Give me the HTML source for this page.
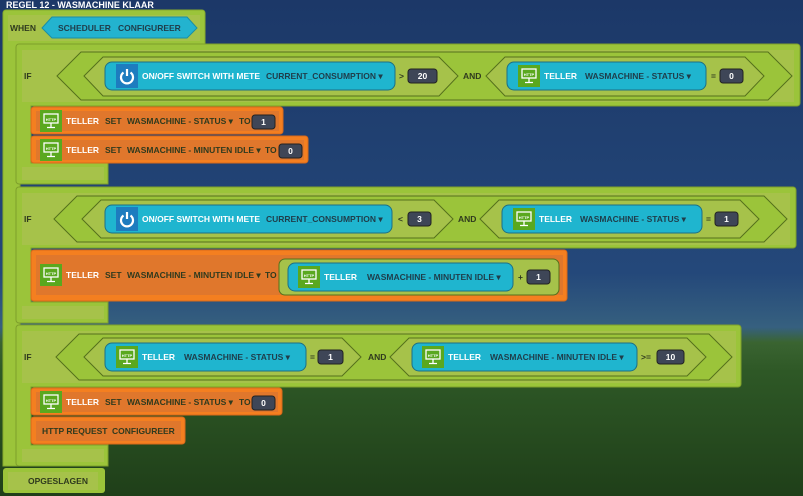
<!DOCTYPE html>
<html><head><meta charset="utf-8"><style>
html,body{margin:0;padding:0;width:803px;height:496px;overflow:hidden}
svg{display:block}
text{font-family:"Liberation Sans",sans-serif;font-weight:bold;font-size:8.5px;fill:#2f3a1e}
.w{fill:#fff}
.c{fill:#1f3d4a}
.v{fill:#fff;text-anchor:middle}
</style></head><body>
<svg width="803" height="496" viewBox="0 0 803 496" xmlns="http://www.w3.org/2000/svg">
<defs>
<linearGradient id="bg" x1="0" y1="0" x2="0" y2="1">
<stop offset="0" stop-color="#1c3868"/>
<stop offset="0.55" stop-color="#24487a"/>
<stop offset="0.66" stop-color="#36607f"/>
<stop offset="0.69" stop-color="#3a6431"/>
<stop offset="0.75" stop-color="#2e5826"/>
<stop offset="1" stop-color="#1f3f19"/>
</linearGradient>
<g id="http">
<rect width="22" height="22" fill="#5aa81e"/>
<rect x="4" y="4" width="14" height="9" fill="none" stroke="#fff" stroke-width="1.3"/>
<text x="11" y="11" style="font-size:4px;fill:#fff;text-anchor:middle">HTTP</text>
<path d="M11 13v4M7 17.5h8" stroke="#fff" stroke-width="1.3"/>
</g>
<g id="pwr">
<rect width="22" height="24" fill="#1d7cbf"/>
<path d="M7.5 8.5 A6 6 0 1 0 14.5 8.5" fill="none" stroke="#fff" stroke-width="2.2"/>
<path d="M11 5v7" stroke="#fff" stroke-width="2.2"/>
</g>
</defs>
<rect width="803" height="496" fill="url(#bg)"/>

<text x="6" y="8" class="w" style="font-size:9px">REGEL 12 - WASMACHINE KLAAR</text>

<path d="M6 10H202a3 3 0 0 1 3 3V44H20V466H3V13a3 3 0 0 1 3-3z" fill="#9bc43a" stroke="#86aa2c"/>
<rect x="8" y="15" width="192" height="26" fill="#a6c24a"/>
<text x="10" y="31">WHEN</text>
<polygon points="42,28 52,17 187,17 197,28 187,38 52,38" fill="#23b3cf" stroke="#1b8ea5"/>
<text x="58" y="31" class="c">SCHEDULER</text><text x="118" y="31" class="c">CONFIGUREER</text>
<rect x="3" y="468" width="102" height="25" rx="3" fill="#9bc43a"/>
<rect x="8" y="472" width="90" height="18" fill="#a6c24a"/>
<text x="28" y="484">OPGESLAGEN</text>

<path d="M19 44H797a3 3 0 0 1 3 3V103a3 3 0 0 1-3 3H31V163H108V184H19a3 3 0 0 1-3-3V47a3 3 0 0 1 3-3z" fill="#9bc43a" stroke="#7e9f2b"/>
<rect x="22" y="50" width="772" height="52" fill="#a6c24a"/>
<rect x="22" y="167" width="82" height="13" fill="#a6c24a"/>
<text x="24" y="79">IF</text>
<polygon points="57,76 81,52 768,52 792,76 768,100 81,100" fill="#9bc43a" stroke="#55701c"/>
<polygon points="84,76 103,57 439,57 458,76 439,96 103,96" fill="#a6c24a" stroke="#55701c"/>
<polygon points="486,76 505,57 745,57 764,76 745,96 505,96" fill="#a6c24a" stroke="#55701c"/>
<rect x="105" y="62" width="290" height="28" rx="7" fill="#1fb5cf" stroke="#1d6f85"/>
<use href="#pwr" x="116" y="64"/>
<text x="142" y="79" class="w">ON/OFF SWITCH WITH METE</text>
<text x="266" y="79" class="c">CURRENT_CONSUMPTION ▾</text>
<text x="399" y="79">&gt;</text>
<rect x="408" y="69" width="29" height="14" rx="3" fill="#3e4657" stroke="#222"/><text x="422.5" y="79" class="v">20</text>
<text x="463" y="79">AND</text>
<rect x="507" y="62" width="199" height="28" rx="7" fill="#1fb5cf" stroke="#1d6f85"/>
<use href="#http" x="518" y="65"/>
<text x="544" y="79" class="w">TELLER</text>
<text x="585" y="79" class="c">WASMACHINE - STATUS ▾</text>
<text x="711" y="79">=</text>
<rect x="720" y="69" width="23" height="14" rx="3" fill="#3e4657" stroke="#222"/><text x="731.5" y="79" class="v">0</text>

<rect x="31" y="107" width="252" height="27" rx="3" fill="#f47f20" stroke="#d9691a"/>
<rect x="36" y="111" width="243" height="20" fill="#e0772c"/>
<use href="#http" x="40" y="110"/>
<text x="66" y="124" class="w">TELLER</text>
<text x="105" y="124">SET</text><text x="127" y="124">WASMACHINE - STATUS ▾</text><text x="239" y="124">TO</text>
<rect x="252" y="115" width="23" height="14" rx="3" fill="#3e4657" stroke="#222"/><text x="263.5" y="125" class="v">1</text>
<rect x="31" y="136" width="277" height="27" rx="3" fill="#f47f20" stroke="#d9691a"/>
<rect x="36" y="140" width="268" height="20" fill="#e0772c"/>
<use href="#http" x="40" y="139"/>
<text x="66" y="153" class="w">TELLER</text>
<text x="105" y="153">SET</text><text x="127" y="153">WASMACHINE - MINUTEN IDLE ▾</text><text x="265" y="153">TO</text>
<rect x="279" y="144" width="23" height="14" rx="3" fill="#3e4657" stroke="#222"/><text x="290.5" y="154" class="v">0</text>

<path d="M19 187H793a3 3 0 0 1 3 3V245a3 3 0 0 1-3 3H31V302H108V323H19a3 3 0 0 1-3-3V190a3 3 0 0 1 3-3z" fill="#9bc43a" stroke="#7e9f2b"/>
<rect x="22" y="193" width="768" height="52" fill="#a6c24a"/>
<rect x="22" y="306" width="82" height="13" fill="#a6c24a"/>
<text x="24" y="222">IF</text>
<polygon points="54,219 77,196 764,196 787,219 764,242 77,242" fill="#9bc43a" stroke="#55701c"/>
<polygon points="82,219 101,200 434,200 453,219 434,238 101,238" fill="#a6c24a" stroke="#55701c"/>
<polygon points="480,219 499,200 740,200 759,219 740,238 499,238" fill="#a6c24a" stroke="#55701c"/>
<rect x="105" y="205" width="287" height="28" rx="7" fill="#1fb5cf" stroke="#1d6f85"/>
<use href="#pwr" x="116" y="207"/>
<text x="142" y="222" class="w">ON/OFF SWITCH WITH METE</text>
<text x="266" y="222" class="c">CURRENT_CONSUMPTION ▾</text>
<text x="398" y="222">&lt;</text>
<rect x="408" y="212" width="23" height="14" rx="3" fill="#3e4657" stroke="#222"/><text x="419.5" y="222" class="v">3</text>
<text x="458" y="222">AND</text>
<rect x="502" y="205" width="200" height="28" rx="7" fill="#1fb5cf" stroke="#1d6f85"/>
<use href="#http" x="513" y="208"/>
<text x="539" y="222" class="w">TELLER</text>
<text x="580" y="222" class="c">WASMACHINE - STATUS ▾</text>
<text x="706" y="222">=</text>
<rect x="715" y="212" width="23" height="14" rx="3" fill="#3e4657" stroke="#222"/><text x="726.5" y="222" class="v">1</text>

<rect x="31" y="250" width="536" height="51" rx="3" fill="#f47f20" stroke="#d9691a"/>
<rect x="36" y="255" width="527" height="40" fill="#e0772c"/>
<use href="#http" x="40" y="264"/>
<text x="66" y="278" class="w">TELLER</text>
<text x="105" y="278">SET</text><text x="127" y="278">WASMACHINE - MINUTEN IDLE ▾</text><text x="265" y="278">TO</text>
<rect x="279" y="259" width="280" height="36" rx="6" fill="#a6c24a" stroke="#55701c"/>
<rect x="288" y="263" width="225" height="28" rx="7" fill="#1fb5cf" stroke="#1d6f85"/>
<use href="#http" x="298" y="266"/>
<text x="324" y="280" class="w">TELLER</text>
<text x="367" y="280" class="c">WASMACHINE - MINUTEN IDLE ▾</text>
<text x="518" y="280">+</text>
<rect x="527" y="270" width="23" height="14" rx="3" fill="#3e4657" stroke="#222"/><text x="538.5" y="280" class="v">1</text>

<path d="M19 325H738a3 3 0 0 1 3 3V384a3 3 0 0 1-3 3H31V445H108V466H19a3 3 0 0 1-3-3V328a3 3 0 0 1 3-3z" fill="#9bc43a" stroke="#7e9f2b"/>
<rect x="22" y="331" width="714" height="52" fill="#a6c24a"/>
<rect x="22" y="449" width="82" height="13" fill="#a6c24a"/>
<text x="24" y="360">IF</text>
<polygon points="56,357 79,334 709,334 732,357 709,380 79,380" fill="#9bc43a" stroke="#55701c"/>
<polygon points="84,357 103,338 342,338 361,357 342,376 103,376" fill="#a6c24a" stroke="#55701c"/>
<polygon points="390,357 409,338 687,338 706,357 687,376 409,376" fill="#a6c24a" stroke="#55701c"/>
<rect x="105" y="343" width="201" height="28" rx="7" fill="#1fb5cf" stroke="#1d6f85"/>
<use href="#http" x="116" y="346"/>
<text x="142" y="360" class="w">TELLER</text>
<text x="184" y="360" class="c">WASMACHINE - STATUS ▾</text>
<text x="310" y="360">=</text>
<rect x="318" y="350" width="25" height="14" rx="3" fill="#3e4657" stroke="#222"/><text x="330.5" y="360" class="v">1</text>
<text x="368" y="360">AND</text>
<rect x="412" y="343" width="225" height="28" rx="7" fill="#1fb5cf" stroke="#1d6f85"/>
<use href="#http" x="422" y="346"/>
<text x="448" y="360" class="w">TELLER</text>
<text x="490" y="360" class="c">WASMACHINE - MINUTEN IDLE ▾</text>
<text x="641" y="360">&gt;=</text>
<rect x="657" y="350" width="27" height="14" rx="3" fill="#3e4657" stroke="#222"/><text x="670.5" y="360" class="v">10</text>

<rect x="31" y="388" width="251" height="27" rx="3" fill="#f47f20" stroke="#d9691a"/>
<rect x="36" y="392" width="242" height="20" fill="#e0772c"/>
<use href="#http" x="40" y="391"/>
<text x="66" y="405" class="w">TELLER</text>
<text x="105" y="405">SET</text><text x="127" y="405">WASMACHINE - STATUS ▾</text><text x="239" y="405">TO</text>
<rect x="252" y="396" width="23" height="14" rx="3" fill="#3e4657" stroke="#222"/><text x="263.5" y="406" class="v">0</text>
<rect x="31" y="417" width="154" height="27" rx="3" fill="#f47f20" stroke="#d9691a"/>
<rect x="36" y="421" width="145" height="20" fill="#e0772c"/>
<text x="42" y="434">HTTP REQUEST</text><text x="112" y="434">CONFIGUREER</text>
</svg>
</body></html>
